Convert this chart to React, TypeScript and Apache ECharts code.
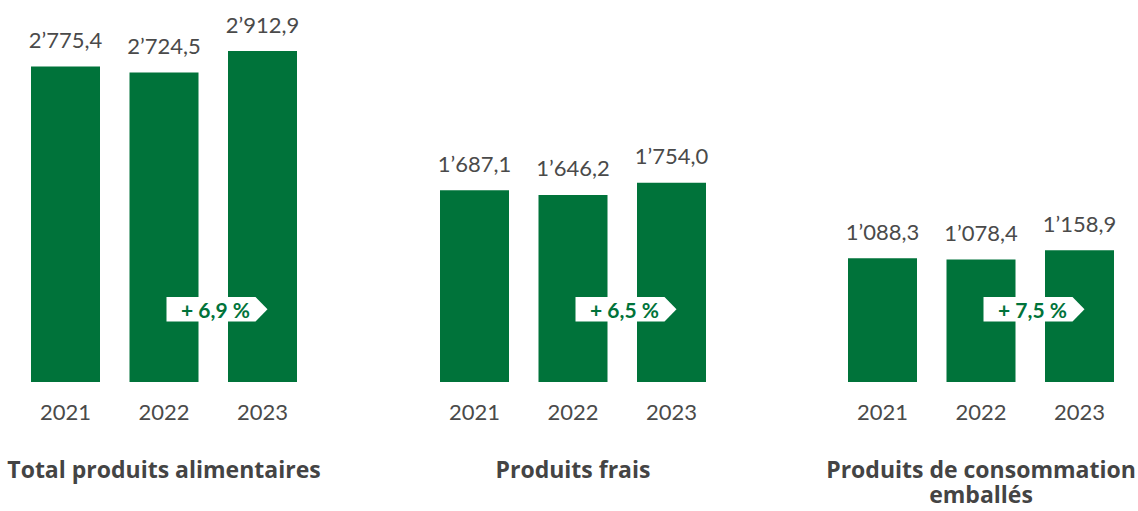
import React, { useEffect, useRef } from "react";
import * as echarts from "echarts";

const years = ["2021", "2022", "2023"];
const totalValues = [2775.4, 2724.5, 2912.9];
const freshValues = [1687.1, 1646.2, 1754.0];
const packagedValues = [1088.3, 1078.4, 1158.9];
const groupTitles = [["Total produits alimentaires"], ["Produits frais"], ["Produits de consommation", "emballés"]];
const growthLabels = ["+ 6,9 %", "+ 6,5 %", "+ 7,5 %"];

const GREEN = "#00733A";
const GREY = "#4a4a4a";
const FONT = "Lato";

function fmt(v: number): string {
  const [intPart, dec] = v.toFixed(1).split(".");
  const withSep = intPart.replace(/\B(?=(\d{3})+(?!\d))/g, "\u2019");
  return withSep + "," + dec;
}

export default function App() {
  const ref = useRef<HTMLDivElement>(null);
  useEffect(() => {
    if (!ref.current) return;
    const chart = echarts.init(ref.current, undefined, { renderer: "svg" });
    const groups = [totalValues, freshValues, packagedValues];
    const lefts = [16.25, 425.25, 833.25];
    const gridWidth = 295.5;
    const yMax = 3000;
    const baseline = 382;
    const height = (yMax * 331) / 2912.9;
    const top = baseline - height;

    chart.setOption({
      animation: false,
      backgroundColor: "#ffffff",
      grid: lefts.map((l) => ({ left: l, width: gridWidth, top, bottom: 511 - baseline })),
      xAxis: groups.map((_, i) => ({
        type: "category",
        gridIndex: i,
        data: years,
        axisLine: { show: false },
        axisTick: { show: false },
        axisLabel: { color: GREY, fontSize: 22, fontFamily: FONT, margin: 18 },
      })),
      yAxis: groups.map((_, i) => ({
        type: "value",
        gridIndex: i,
        min: 0,
        max: yMax,
        show: false,
        splitLine: { show: false },
      })),
      series: groups.map((vals, i) => ({
        type: "bar",
        xAxisIndex: i,
        yAxisIndex: i,
        data: vals,
        barWidth: 69,
        itemStyle: { color: GREEN },
        label: {
          show: true,
          position: "top",
          distance: 16,
          color: GREY,
          fontSize: 22,
          fontFamily: FONT,
          formatter: (p: any) => fmt(p.value),
        },
      })),
    });

    const elements: any[] = [];
    groups.forEach((_, i) => {
      const cx = chart.convertToPixel({ xAxisIndex: i } as any, years[1]) as number;
      const x0 = cx + 2.5;
      const xr = x0 + 89;
      const xt = x0 + 101;
      const y0 = 297;
      const y1 = 321.5;
      elements.push({
        type: "polygon",
        shape: { points: [[x0, y0], [xr, y0], [xt, (y0 + y1) / 2], [xr, y1], [x0, y1]] },
        style: { fill: "#ffffff" },
        z: 10,
      });
      elements.push({
        type: "text",
        x: x0 + 49,
        y: (y0 + y1) / 2 + 0.5,
        style: {
          text: growthLabels[i],
          fill: GREEN,
          font: `bold 21px ${FONT}`,
          textAlign: "center",
          verticalAlign: "middle",
        },
        z: 11,
      });
      groupTitles[i].forEach((line, j) => {
        elements.push({
          type: "text",
          x: cx,
          y: 469 + j * 25,
          style: {
            text: line,
            fill: "#444444",
            font: `bold 23px "Open Sans"`,
            lineHeight: 24,
            textAlign: "center",
            verticalAlign: "middle",
          },
          z: 11,
        });
      });
    });
    chart.setOption({ graphic: elements });

    return () => chart.dispose();
  }, []);
  return (
    <div
      ref={ref}
      style={{ position: "fixed", left: 0, top: 0, width: 1138, height: 511 }}
    />
  );
}
